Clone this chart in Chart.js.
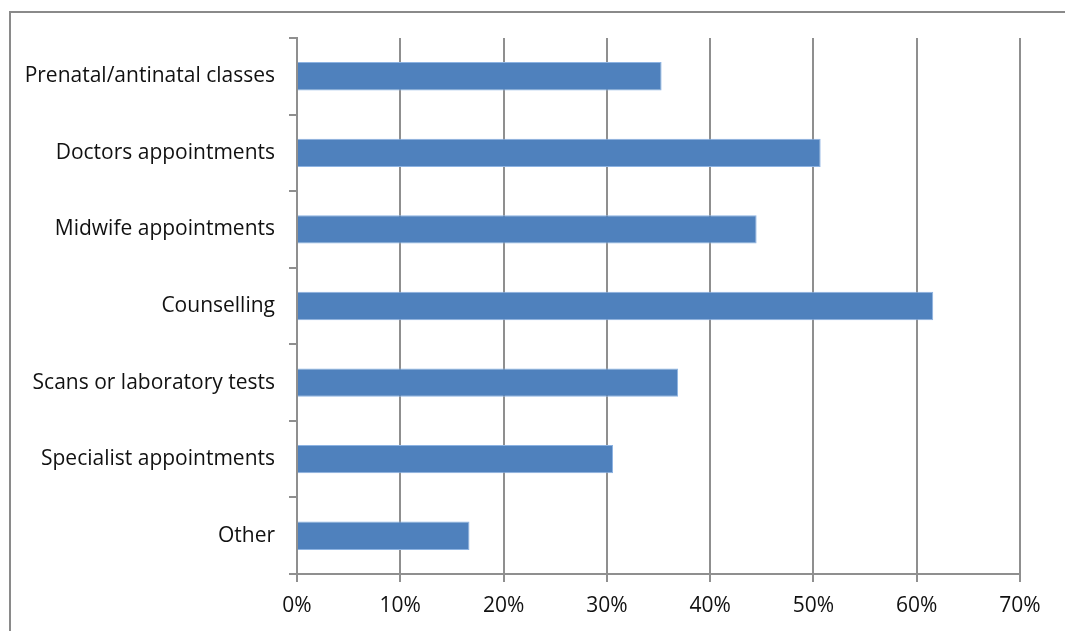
<!DOCTYPE html>
<html>
<head>
<meta charset="utf-8">
<script src="https://cdn.jsdelivr.net/npm/chart.js@4/dist/chart.umd.min.js"></script>
<style>
  html, body { margin: 0; padding: 0; background: #fff; overflow: hidden; }
  #wrap { position: relative; width: 1065px; height: 631px; }
  #frame {
    position: absolute; left: 9px; top: 11px; width: 1200px; height: 800px;
    border-left: 2px solid #8a8a8a; border-top: 2px solid #8a8a8a;
    box-sizing: border-box; pointer-events: none;
  }
  canvas { position: absolute; left: 0; top: 0; }
</style>
</head>
<body>
<div id="wrap">
  <div id="frame"></div>
  <canvas id="c" width="1065" height="631"></canvas>
</div>
<script>
// Services accessed, share of respondents (%)
const categories = [
  'Prenatal/antinatal classes',
  'Doctors appointments',
  'Midwife appointments',
  'Counselling',
  'Scans or laboratory tests',
  'Specialist appointments',
  'Other'
];
const shares = [35.3, 50.7, 44.5, 61.6, 36.9, 30.6, 16.7];
const percentTicks = [0, 10, 20, 30, 40, 50, 60, 70];

const gridGrey = '#8f8f8f';
const font = { family: '"Open Sans", Lato, sans-serif', size: 21 };

new Chart(document.getElementById('c'), {
  type: 'bar',
  data: {
    labels: categories,
    datasets: [{
      data: shares,
      backgroundColor: '#4F81BD',
      borderColor: '#8db3e2',
      borderWidth: 1,
      categoryPercentage: 1,
      barPercentage: 0.37
    }]
  },
  options: {
    indexAxis: 'y',
    responsive: false,
    animation: false,
    layout: { padding: { top: 38, right: 45, left: 12, bottom: 0 } },
    plugins: { legend: { display: false }, tooltip: { enabled: false } },
    scales: {
      x: {
        min: 0, max: 70,
        afterBuildTicks: (s) => { s.ticks = percentTicks.map(v => ({ value: v })); },
        afterFit: (s) => { s.height = 631 - 574; },
        grid: { color: gridGrey, lineWidth: 2, tickLength: 8, drawTicks: true },
        border: { color: gridGrey, width: 2 },
        ticks: {
          color: '#111', font: font, padding: 11,
          callback: (v) => v + '%'
        }
      },
      y: {
        afterFit: (s) => { s.width = 297 - 12; },
        grid: { display: true, drawOnChartArea: false, offset: true, color: gridGrey, lineWidth: 2, tickLength: 8 },
        border: { color: gridGrey, width: 2 },
        ticks: { color: '#111', font: font, padding: 14 }
      }
    }
  }
});
</script>
</body>
</html>
